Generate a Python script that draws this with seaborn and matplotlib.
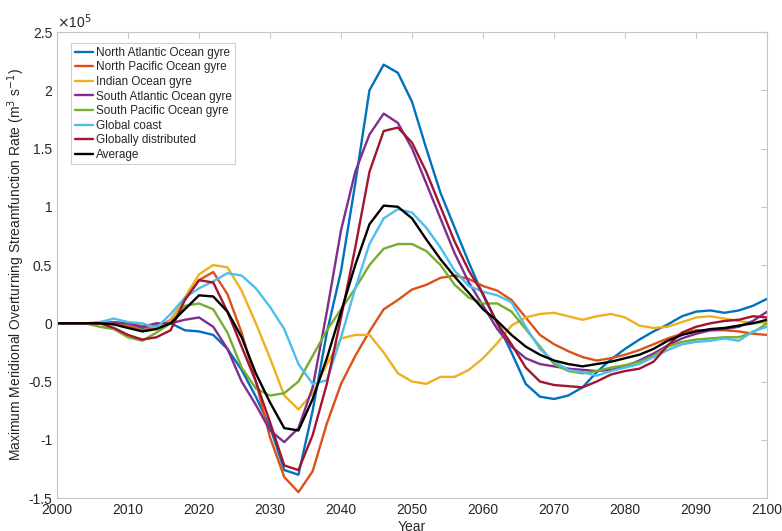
import matplotlib
matplotlib.use("Agg")
import matplotlib.pyplot as plt
import numpy as np
import pandas as pd
import seaborn as sns
from matplotlib.ticker import FuncFormatter

# values in units of 1e5 m^3 s^-1, one every 2 years
years = np.arange(2000, 2101, 2)

north_atlantic = [0, 0, 0, 0, 0.01, 0.0, -0.04, -0.02, 0.0, -0.06,
                  -0.07, -0.1, -0.22, -0.4, -0.63, -0.89, -1.26, -1.3, -0.75, -0.08,
                  0.45, 1.2, 2.0, 2.22, 2.15, 1.9, 1.5, 1.12, 0.82, 0.52,
                  0.24, 0.0, -0.25, -0.52, -0.63, -0.65, -0.62, -0.55, -0.42, -0.31,
                  -0.22, -0.14, -0.07, -0.01, 0.06, 0.1, 0.11, 0.09, 0.11, 0.15,
                  0.21]
north_pacific = [0, 0, 0, 0, 0, -0.02, -0.06, -0.04, 0.03, 0.2,
                 0.37, 0.44, 0.25, -0.08, -0.5, -0.98, -1.32, -1.45, -1.27, -0.86,
                 -0.52, -0.28, -0.07, 0.12, 0.2, 0.29, 0.33, 0.39, 0.41, 0.38,
                 0.32, 0.28, 0.2, 0.05, -0.1, -0.18, -0.24, -0.29, -0.32, -0.3,
                 -0.27, -0.23, -0.18, -0.13, -0.09, -0.06, -0.06, -0.06, -0.07, -0.09,
                 -0.1]
indian = [0, 0, 0, 0, 0, 0.0, -0.02, -0.03, 0.02, 0.22,
          0.42, 0.5, 0.48, 0.28, 0.0, -0.3, -0.62, -0.74, -0.6, -0.35,
          -0.13, -0.1, -0.1, -0.25, -0.43, -0.5, -0.52, -0.46, -0.46, -0.4,
          -0.3, -0.17, -0.02, 0.05, 0.08, 0.09, 0.06, 0.03, 0.06, 0.08,
          0.05, -0.02, -0.04, -0.03, 0.01, 0.05, 0.06, 0.04, 0.02, 0.0,
          0.01]
south_atlantic = [0, 0, 0, 0, 0, 0.0, -0.03, 0.0, 0.0, 0.03,
                  0.05, -0.03, -0.22, -0.5, -0.7, -0.92, -1.02, -0.9, -0.55, 0.1,
                  0.8, 1.3, 1.62, 1.8, 1.72, 1.5, 1.2, 0.9, 0.6, 0.35,
                  0.15, -0.05, -0.2, -0.3, -0.35, -0.37, -0.39, -0.4, -0.41, -0.4,
                  -0.37, -0.32, -0.26, -0.19, -0.13, -0.09, -0.06, -0.05, -0.03, 0.02,
                  0.1]
south_pacific = [0, 0, 0, -0.03, -0.05, -0.12, -0.15, -0.08, 0.0, 0.15,
                 0.17, 0.12, -0.08, -0.38, -0.56, -0.62, -0.6, -0.5, -0.28, -0.06,
                 0.12, 0.3, 0.5, 0.64, 0.68, 0.68, 0.62, 0.5, 0.33, 0.22,
                 0.17, 0.17, 0.1, -0.05, -0.2, -0.35, -0.41, -0.43, -0.41, -0.38,
                 -0.36, -0.33, -0.28, -0.2, -0.16, -0.14, -0.13, -0.12, -0.12, -0.08,
                 0.0]
global_coast = [0, 0, 0, 0.01, 0.04, 0.01, 0.0, -0.04, 0.08, 0.22,
                0.3, 0.36, 0.43, 0.41, 0.3, 0.14, -0.05, -0.35, -0.52, -0.49,
                -0.12, 0.3, 0.68, 0.9, 0.98, 0.95, 0.82, 0.65, 0.45, 0.32,
                0.27, 0.24, 0.18, -0.03, -0.22, -0.33, -0.4, -0.42, -0.45, -0.41,
                -0.38, -0.35, -0.29, -0.23, -0.18, -0.16, -0.15, -0.13, -0.15, -0.07,
                -0.03]
globally_distributed = [0, 0, 0, 0, -0.04, -0.1, -0.14, -0.12, -0.06, 0.2,
                        0.37, 0.35, 0.1, -0.2, -0.5, -0.85, -1.22, -1.26, -0.96, -0.52,
                        0.05, 0.65, 1.3, 1.65, 1.68, 1.55, 1.3, 1.0, 0.7, 0.45,
                        0.25, 0.0, -0.18, -0.38, -0.5, -0.53, -0.54, -0.55, -0.5, -0.44,
                        -0.41, -0.39, -0.33, -0.19, -0.08, -0.03, 0.0, 0.02, 0.03, 0.06,
                        0.05]
average = [0, 0, 0, 0, -0.01, -0.04, -0.07, -0.05, 0.0, 0.12,
           0.24, 0.23, 0.1, -0.12, -0.43, -0.68, -0.9, -0.92, -0.65, -0.3,
           0.1, 0.5, 0.85, 1.01, 1.0, 0.9, 0.72, 0.55, 0.4, 0.26,
           0.12, 0.02, -0.1, -0.2, -0.27, -0.32, -0.35, -0.37, -0.35, -0.33,
           -0.3, -0.27, -0.22, -0.15, -0.1, -0.07, -0.05, -0.04, -0.02, 0.0,
           0.03]

labels = ["North Atlantic Ocean gyre", "North Pacific Ocean gyre", "Indian Ocean gyre",
          "South Atlantic Ocean gyre", "South Pacific Ocean gyre", "Global coast",
          "Globally distributed", "Average"]
series = [north_atlantic, north_pacific, indian, south_atlantic, south_pacific,
          global_coast, globally_distributed, average]
colors = ["#0072BD", "#D95319", "#EDB120", "#7E2F8E", "#77AC30", "#4DBEEE",
          "#A2142F", "#000000"]

df = pd.concat([pd.DataFrame({"Year": years, "Rate": np.array(v) * 1e5, "Region": name})
                for name, v in zip(labels, series)], ignore_index=True)

sns.set_style("white")
plt.rcParams['font.family'] = ['Liberation Sans', 'DejaVu Sans']

fig = plt.figure(figsize=(7.82, 5.31), dpi=100)
ax = fig.add_axes([0.0729, 0.0621, 0.9081, 0.8776])

sns.lineplot(data=df, x="Year", y="Rate", hue="Region", hue_order=labels,
             palette=colors, linewidth=1.7, ax=ax)

ax.set_xlim(2000, 2100)
ax.set_ylim(-1.5e5, 2.5e5)
ax.set_xticks(np.arange(2000, 2101, 10))
ax.set_yticks(np.arange(-1.5e5, 2.51e5, 0.5e5))
ax.yaxis.set_major_formatter(FuncFormatter(lambda v, p: f"{v / 1e5:g}"))

for s in ax.spines.values():
    s.set_color("#c4c4c4")
    s.set_linewidth(0.8)
ax.tick_params(direction="in", length=4, width=0.8, color="#c4c4c4",
               labelsize=10, labelcolor="#262626", top=True, right=True,
               labeltop=False, labelright=False)

ax.set_xlabel("Year", fontsize=10, color="#262626", labelpad=2)
ax.set_ylabel("Maximum Meridional Overturning Streamfunction Rate (m$^3$ s$^{-1}$)",
              fontsize=10, color="#262626", labelpad=1)
ax.text(0.0, 1.003, r"$\times$10$^5$", transform=ax.transAxes, fontsize=10,
        color="#262626", ha="left", va="bottom")

handles, lbls = ax.get_legend_handles_labels()
leg = ax.legend(handles, lbls, loc="upper left", bbox_to_anchor=(0.0197, 0.976),
                borderaxespad=0, fontsize=8.5, handlelength=1.6, handletextpad=0.2,
                labelspacing=0.22, borderpad=0.3, frameon=True, fancybox=False)
leg.get_frame().set_edgecolor("#c4c4c4")
leg.get_frame().set_linewidth(0.8)
for t in leg.get_texts():
    t.set_color("#262626")

fig.savefig("out.png", dpi=100)
